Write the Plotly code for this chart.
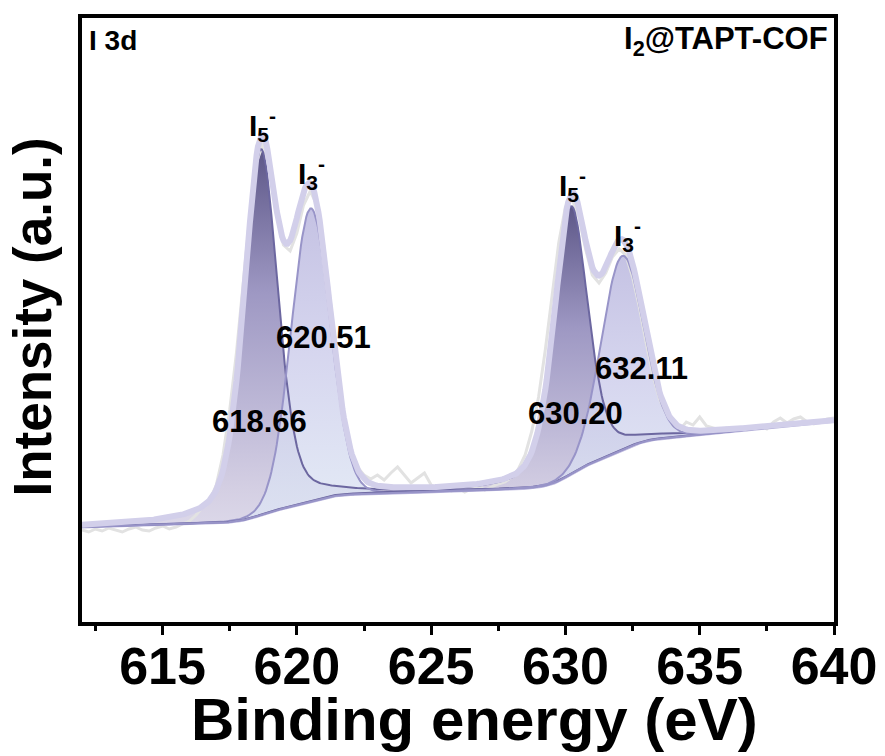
import numpy as np
import plotly.graph_objects as go

# ---------------- data ----------------
energy_raw = [round(612 + 0.25 * i, 2) for i in range(113)]
intensity_raw = [
    95, 93, 96, 94, 97, 95, 93, 96, 98, 95, 94, 97, 99, 96, 98, 101,
    104, 110, 118, 124, 140, 170, 215, 272, 340, 410, 463, 482, 455, 410,
    380, 374, 392, 420, 434, 420, 380, 322, 262, 210, 176, 158, 150, 146,
    150, 145, 152, 158, 150, 142, 147, 152, 140, 136, 138, 134, 137, 133,
    136, 139, 135, 138, 141, 143, 148, 156, 170, 194, 228, 275, 330, 382,
    418, 426, 408, 376, 350, 342, 352, 368, 376, 370, 348, 318, 283, 250,
    226, 212, 200, 195, 203, 200, 208, 199, 197, 195, 197, 194, 196, 195,
    197, 199, 196, 203, 207, 202, 206, 208, 203, 201, 204, 206, 207,
]

# fitted components (I 3d doublets): centre (eV), height, FWHM (eV), Lorentzian share
peak_names = ["I5-", "I3-", "I5-", "I3-"]
centers = [618.66, 620.51, 630.20, 632.11]
heights = [366, 293, 268, 194]
fwhms = [1.5, 1.7, 1.5, 1.85]
gl_mix = [0.4, 0.05, 0.4, 0.05]
# Shirley-type background
bg_base = 98
bg_steps = [27, 50]
bg_slope = 0.6
bg_tail_slope = 2.0
bg_tail_start = 634.0

peak_labels = ["I<sub>5</sub><sup>-</sup>", "I<sub>3</sub><sup>-</sup>",
               "I<sub>5</sub><sup>-</sup>", "I<sub>3</sub><sup>-</sup>"]
peak_label_x = [618.72, 620.55, 630.28, 632.30]
peak_label_y = [500, 452, 440, 390]
value_labels = ["618.66", "620.51", "630.20", "632.11"]
value_label_x = [618.62, 621.0, 630.36, 632.82]
value_label_y = [204, 288, 212, 257]

# ---------------- model curves ----------------
x = np.round(np.arange(612, 640.0001, 0.05), 3)


def gl(xx, c, h, w, m):
    r2 = ((xx - c) / w) ** 2
    return h * ((1 - m) * np.exp(-4 * np.log(2) * r2) + m / (1 + 4 * r2))


comps = [gl(x, c, h, w, m) for c, h, w, m in zip(centers, heights, fwhms, gl_mix)]
d1 = comps[0] + comps[1]
d2 = comps[2] + comps[3]
F1 = np.cumsum(d1) / d1.sum()
F2 = np.cumsum(d2) / d2.sum()
bg = (bg_base + bg_steps[0] * F1 + bg_steps[1] * F2 + bg_slope * (x - 612)
      + bg_tail_slope * np.clip(x - bg_tail_start, 0, None))
env = bg + d1 + d2

dark_scale = [[0, "#dcd8e9"], [0.1, "#d4cfe3"], [0.28, "#c1bcd9"],
              [0.62, "#9e98c3"], [1, "#5d5788"]]
light_scale = [[0, "rgba(221,228,244,0.8)"], [0.12, "rgba(218,225,242,0.8)"],
               [0.54, "rgba(207,207,236,0.85)"], [1, "rgba(190,187,224,0.9)"]]

fig = go.Figure()

xs_poly = np.concatenate([x, x[::-1]])
for i, comp in enumerate(comps):
    ys_poly = np.concatenate([bg + comp, bg[::-1]])
    scale = dark_scale if peak_names[i] == "I5-" else light_scale
    fig.add_trace(go.Scatter(
        x=xs_poly, y=ys_poly, mode="lines", fill="toself",
        line=dict(width=0, color="rgba(0,0,0,0)"),
        fillgradient=dict(type="vertical", colorscale=scale),
        hoverinfo="skip"))

fig.add_trace(go.Scatter(x=energy_raw, y=intensity_raw, mode="lines",
                         line=dict(color="#e2e2e2", width=3)))

fig.add_trace(go.Scatter(x=x, y=bg, mode="lines", line=dict(color="#bcb8de", width=3)))

for i, comp in enumerate(comps):
    col = "#6c67a0" if peak_names[i] == "I5-" else "#9894c8"
    fig.add_trace(go.Scatter(x=x, y=bg + comp, mode="lines", line=dict(color=col, width=2)))

fig.add_trace(go.Scatter(x=x, y=env, mode="lines", line=dict(color="#d2cfea", width=6)))

font_family = "Arial, Liberation Sans, sans-serif"

for t, xx, yy in zip(peak_labels, peak_label_x, peak_label_y):
    fig.add_annotation(x=xx, y=yy, text=t, showarrow=False,
                       font=dict(family=font_family, size=30, color="black", weight="bold"))
for t, xx, yy in zip(value_labels, value_label_x, value_label_y):
    fig.add_annotation(x=xx, y=yy, text=t, showarrow=False,
                       font=dict(family=font_family, size=31, color="black", weight="bold"))

fig.add_annotation(xref="paper", yref="paper", x=0.006, y=0.962, xanchor="left", yanchor="middle",
                   text="I 3d", showarrow=False,
                   font=dict(family=font_family, size=28, color="black", weight="bold"))
fig.add_annotation(xref="paper", yref="paper", x=0.995, y=0.962, xanchor="right", yanchor="middle",
                   text="I<sub>2</sub>@TAPT-COF", showarrow=False,
                   font=dict(family=font_family, size=31, color="black", weight="bold"))

# axis titles
fig.add_annotation(xref="paper", yref="paper", x=0.5225, y=0, yshift=-97,
                   xanchor="center", yanchor="middle", text="Binding energy (eV)", showarrow=False,
                   font=dict(family=font_family, size=60, color="black", weight="bold"))
fig.add_annotation(xref="paper", yref="paper", x=0, xshift=-49, y=0.504,
                   xanchor="center", yanchor="middle", textangle=-90,
                   text="Intensity (a.u.)", showarrow=False,
                   font=dict(family=font_family, size=53, color="black", weight="bold"))

fig.update_layout(width=885, height=756, margin=dict(l=82, r=51, t=18, b=134),
                  plot_bgcolor="white", paper_bgcolor="white", showlegend=False,
                  font=dict(family=font_family, color="black"))
fig.update_xaxes(range=[612, 640], showgrid=False, zeroline=False, automargin=False,
                 showline=True, linewidth=4, linecolor="black", mirror=True,
                 ticks="outside", ticklen=9, tickwidth=3, tickcolor="black", dtick=5,
                 ticklabelstandoff=-13,
                 minor=dict(ticks="outside", ticklen=5, tickwidth=3, tickcolor="black", dtick=2.5),
                 tickfont=dict(family=font_family, size=52, color="black", weight="bold"))
fig.update_yaxes(range=[3, 607], showgrid=False, zeroline=False, automargin=False,
                 showline=True, linewidth=4, linecolor="black", mirror=True,
                 ticks="", showticklabels=False)

fig.write_html("out.html")
